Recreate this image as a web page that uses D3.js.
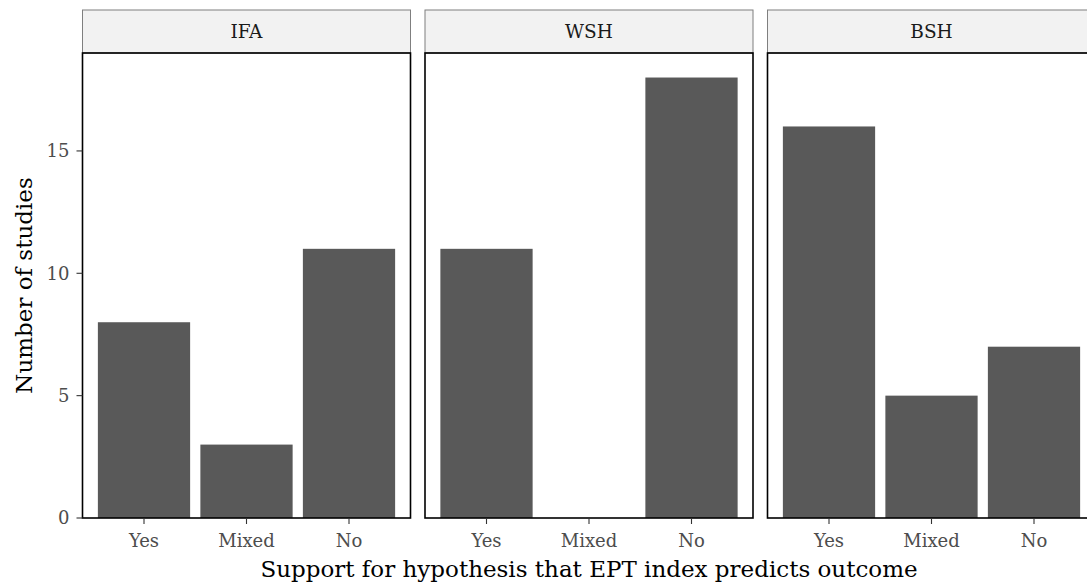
<!DOCTYPE html>
<html>
<head>
<meta charset="utf-8">
<script src="https://cdn.jsdelivr.net/npm/d3@7"></script>
<style>
  body { margin: 0; background: #fff; }
  svg { display: block; font-family: "DejaVu Serif", "Liberation Serif", serif; }
</style>
</head>
<body>
<svg id="chart" width="1087" height="583"></svg>
<script>
// facets, categories and counts
var facets = ['IFA', 'WSH', 'BSH'];
var categories = ['Yes', 'Mixed', 'No'];
var countsIFA = [8, 3, 11];
var countsWSH = [11, 0, 18];
var countsBSH = [16, 5, 7];
var yTicks = [0, 5, 10, 15];

var seriesByFacet = {IFA: countsIFA, WSH: countsWSH, BSH: countsBSH};

var svg = d3.select('#chart');

var stripTop = 10, stripBottom = 53, panelBottom = 518;
var panelW = 328;
var panelLefts = [82.5, 425, 767.5];

var y = d3.scaleLinear()
  .domain([0, 18 * 1.05])
  .range([panelBottom, 55.5]);

// ggplot discrete expansion: 0.6 units each side
var x = d3.scaleLinear()
  .domain([0.4, categories.length + 0.6])
  .range([0, panelW]);

facets.forEach(function(name, i) {
  var g = svg.append('g')
    .attr('transform', 'translate(' + panelLefts[i] + ',0)');

  // strip
  g.append('rect')
    .attr('x', 0).attr('y', stripTop)
    .attr('width', panelW).attr('height', stripBottom - stripTop)
    .attr('fill', '#f2f2f2')
    .attr('stroke', '#7f7f7f')
    .attr('stroke-width', 1);

  g.append('text')
    .attr('x', panelW / 2)
    .attr('y', (stripTop + stripBottom) / 2)
    .attr('dy', '0.35em')
    .attr('text-anchor', 'middle')
    .attr('fill', '#1a1a1a')
    .style('font-size', '18.5px')
    .text(name);

  // bars
  var vals = seriesByFacet[name];
  g.selectAll('rect.bar')
    .data(vals)
    .enter()
    .append('rect')
    .attr('class', 'bar')
    .attr('x', function(d, j) { return x(j + 1 - 0.45); })
    .attr('width', x(1.45) - x(0.55))
    .attr('y', function(d) { return y(d); })
    .attr('height', function(d) { return y(0) - y(d); })
    .attr('fill', '#595959');

  // panel border
  g.append('rect')
    .attr('x', 0).attr('y', stripBottom)
    .attr('width', panelW).attr('height', panelBottom - stripBottom)
    .attr('fill', 'none')
    .attr('stroke', '#000')
    .attr('stroke-width', 1.6);

  // x axis
  var xa = g.append('g');
  categories.forEach(function(c, j) {
    var cx = x(j + 1);
    xa.append('line')
      .attr('x1', cx).attr('x2', cx)
      .attr('y1', panelBottom).attr('y2', panelBottom + 6)
      .attr('stroke', '#333').attr('stroke-width', 1.1);
    xa.append('text')
      .attr('x', cx).attr('y', panelBottom + 29)
      .attr('text-anchor', 'middle')
      .attr('fill', '#4d4d4d')
      .style('font-size', '18px')
      .text(c);
  });

  // y axis only on the first panel
  if (i === 0) {
    var ya = g.append('g');
    yTicks.forEach(function(t) {
      ya.append('line')
        .attr('x1', -6).attr('x2', 0)
        .attr('y1', y(t)).attr('y2', y(t))
        .attr('stroke', '#333').attr('stroke-width', 1.1);
      ya.append('text')
        .attr('x', -13).attr('y', y(t))
        .attr('dy', '0.35em')
        .attr('text-anchor', 'end')
        .attr('fill', '#4d4d4d')
        .style('font-size', '18px')
        .text(t);
    });
  }
});

// axis titles
svg.append('text')
  .attr('x', 589)
  .attr('y', 577)
  .attr('text-anchor', 'middle')
  .attr('fill', '#000')
  .style('font-size', '23px')
  .text('Support for hypothesis that EPT index predicts outcome');

svg.append('text')
  .attr('transform', 'translate(32,' + ((stripBottom + panelBottom) / 2) + ') rotate(-90)')
  .attr('text-anchor', 'middle')
  .attr('fill', '#000')
  .style('font-size', '23px')
  .text('Number of studies');
</script>
</body>
</html>
